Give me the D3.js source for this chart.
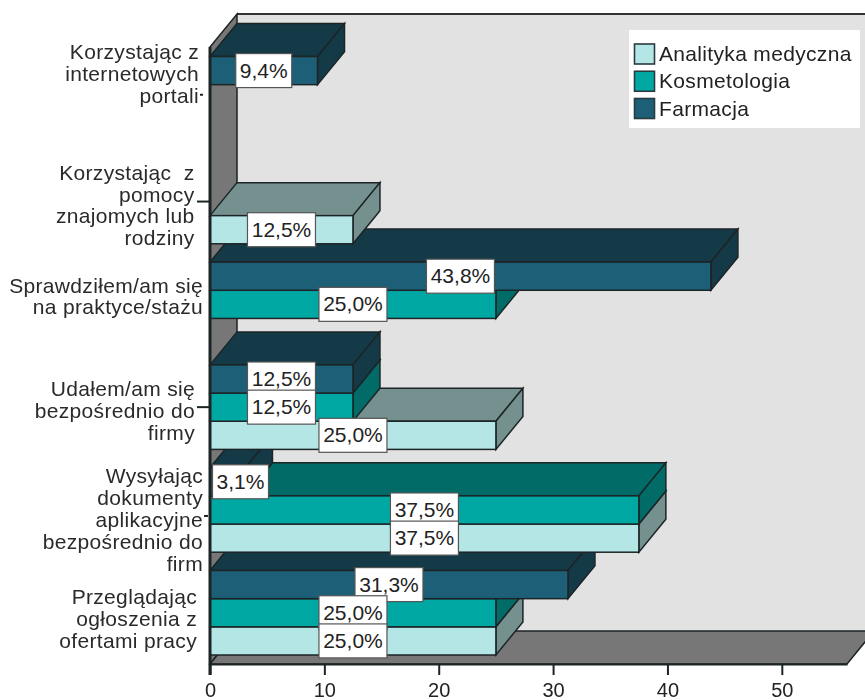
<!DOCTYPE html>
<html><head><meta charset="utf-8">
<script src="https://cdn.jsdelivr.net/npm/d3@7"></script>
<style>
html,body{margin:0;padding:0;background:#fff;overflow:hidden}
svg{display:block;font-family:"Liberation Sans",Arial,sans-serif;filter:blur(0.5px)}
text{white-space:pre}
</style></head><body>
<svg id="c" width="865" height="700"></svg>
<script>
const categories = ["portale","znajomi","praktyka","firmy","dokumenty","ogloszenia"];
const categoryLines = [
  ["Korzystając z","internetowych","portali"],
  ["Korzystając  z","pomocy","znajomych lub","rodziny"],
  ["Sprawdziłem/am się","na praktyce/stażu"],
  ["Udałem/am się","bezpośrednio do","firmy"],
  ["Wysyłając","dokumenty","aplikacyjne","bezpośrednio do","firm"],
  ["Przeglądając","ogłoszenia z","ofertami pracy"]
];
const seriesNames = ["Farmacja","Kosmetologia","Analityka medyczna"];
const farmacja = [9.4, null, 43.8, 12.5, 3.1, 31.3];
const kosmetologia = [null, null, 25.0, 12.5, 37.5, 25.0];
const analityka = [null, 12.5, null, 25.0, 37.5, 25.0];
const xTicks = [0,10,20,30,40,50];
const legendOrder = ["Analityka medyczna","Kosmetologia","Farmacja"];

// styling / layout, kept apart from the data
const front = {"Farmacja":"#1c5f77","Kosmetologia":"#00a8a3","Analityka medyczna":"#b5e6e6"};
const side  = {"Farmacja":"#143a47","Kosmetologia":"#006b67","Analityka medyczna":"#74908f"};
const ink = "#1c2426", DX = 27, DY = 33;
const labelRight = [199,194.5,203,195,203,197];
const labelMid = [74,205.5,296.5,411,520,619];
const tickSeg = [[200,203],[197,210],null,[197,210],[204,208],null];
const tickShift = [-4,0,0,0,6,0];
const spacing = "0.33px";

const values = {"Farmacja":farmacja,"Kosmetologia":kosmetologia,"Analityka medyczna":analityka};
const svg = d3.select("#c");
const x = d3.scaleLinear().domain([0,55.7]).range([210,847]);
const y = d3.scaleBand().domain(categories).range([56.5,655]).paddingInner(0.178);
const yInner = d3.scaleBand().domain(seriesNames).range([0,y.bandwidth()]);
const wallTop = 47, floorFront = 664, floorBack = floorFront - DY;
const poly = pts => pts.map(p=>p.join(",")).join(" ");

// back wall
svg.append("rect").attr("x",x(0)+DX).attr("y",wallTop-DY).attr("width",700).attr("height",floorBack-wallTop+DY)
  .attr("fill","#e2e2e2");
svg.append("line").attr("x1",x(0)+DX).attr("x2",865).attr("y1",wallTop-DY).attr("y2",wallTop-DY)
  .attr("stroke","#333").attr("stroke-width",2);
// left wall
svg.append("polygon").attr("points",poly([[x(0),wallTop],[x(0)+DX,wallTop-DY],[x(0)+DX,floorBack],[x(0),floorFront]]))
  .attr("fill","#777").attr("stroke",ink).attr("stroke-width",1.5);
// floor
svg.append("polygon").attr("points",poly([[x(0),floorFront],[x(0)+DX,floorBack],[x.range()[1]+DX,floorBack],[x.range()[1],floorFront]]))
  .attr("fill","#777").attr("stroke",ink).attr("stroke-width",1.5);

// axis
const axis = svg.append("g").attr("transform",`translate(0,${floorFront})`)
  .call(d3.axisBottom(x).tickValues(xTicks).tickSize(11).tickPadding(6).tickSizeOuter(0));
axis.select(".domain").attr("stroke",ink).attr("stroke-width",2);
axis.selectAll(".tick line").attr("stroke",ink).attr("stroke-width",2);
axis.selectAll(".tick text").attr("font-size",20).attr("font-family","inherit").attr("fill","#222")
  .attr("y",null).attr("dy",null).attr("transform",`translate(0,33)`);

// bars: lower categories and lower bars first, so upper ones sit on their top faces
const records = [];
categories.forEach((c,i)=>seriesNames.forEach(s=>{ if(values[s][i]!=null) records.push({c,i,s,v:values[s][i]}); }));
const bars = svg.append("g").selectAll("g").data(records.slice().reverse()).join("g");
const sw = 1.5;
bars.append("polygon").attr("fill",d=>side[d.s]).attr("stroke",ink).attr("stroke-width",sw)
  .attr("points",d=>{const t=y(d.c)+yInner(d.s),r=x(d.v),l=x(0);return poly([[l,t],[l+DX,t-DY],[r+DX,t-DY],[r,t]]);});
bars.append("polygon").attr("fill",d=>side[d.s]).attr("stroke",ink).attr("stroke-width",sw)
  .attr("points",d=>{const t=y(d.c)+yInner(d.s),b=t+yInner.bandwidth(),r=x(d.v);return poly([[r,t],[r+DX,t-DY],[r+DX,b-DY],[r,b]]);});
bars.append("rect").attr("fill",d=>front[d.s]).attr("stroke",ink).attr("stroke-width",sw)
  .attr("x",x(0)).attr("y",d=>y(d.c)+yInner(d.s)).attr("width",d=>x(d.v)-x(0)).attr("height",yInner.bandwidth());

svg.append("line").attr("x1",x(0)).attr("x2",x(0)).attr("y1",wallTop).attr("y2",floorFront+11)
  .attr("stroke",ink).attr("stroke-width",3);

// value boxes
const boxes = svg.append("g").selectAll("g").data(records).join("g")
  .attr("transform",d=>`translate(${Math.max(x(d.v)/2+x(0)/2,240.5)},${y(d.c)+yInner(d.s)+yInner.bandwidth()/2})`);
boxes.append("rect").attr("x",d=>d.v<10?-28:-34).attr("y",-17).attr("width",d=>d.v<10?56:68).attr("height",34)
  .attr("fill","#fff").attr("stroke","#555").attr("stroke-width",1.2);
boxes.append("text").attr("text-anchor","middle").attr("y",7).attr("font-size",21).attr("fill","#222")
  .text(d=>d3.format(".1f")(d.v).replace(".",",")+"%");

// category labels
const cg = svg.append("g").selectAll("g").data(categories).join("g");
cg.each(function(c,i){
  const g = d3.select(this), lines = categoryLines[i], lh = 21.8;
  const seg = tickSeg[i], ty = y(c)+y.bandwidth()/2+tickShift[i];
  if(seg) g.append("line").attr("x1",seg[0]).attr("x2",seg[1]).attr("y1",ty).attr("y2",ty).attr("stroke",ink).attr("stroke-width",2);
  lines.forEach((t,k)=>g.append("text").attr("text-anchor","end").attr("x",labelRight[i])
    .attr("y",labelMid[i]+(k-(lines.length-1)/2)*lh+7).attr("font-size",21).attr("letter-spacing",spacing).attr("fill","#2a2a2a").text(t));
});

// legend
const lg = svg.append("g");
lg.append("rect").attr("x",629).attr("y",30).attr("width",231).attr("height",98).attr("fill","#fff");
const ly = d3.scalePoint().domain(legendOrder).range([54,108.5]);
legendOrder.forEach(s=>{
  lg.append("rect").attr("x",634.5).attr("y",ly(s)-10).attr("width",20).attr("height",20)
    .attr("fill",front[s]).attr("stroke","#2b3a40").attr("stroke-width",1.6);
  lg.append("text").attr("x",659).attr("y",ly(s)+7).attr("font-size",21).attr("letter-spacing",spacing).attr("fill","#222").text(s);
});
</script>
</body></html>
